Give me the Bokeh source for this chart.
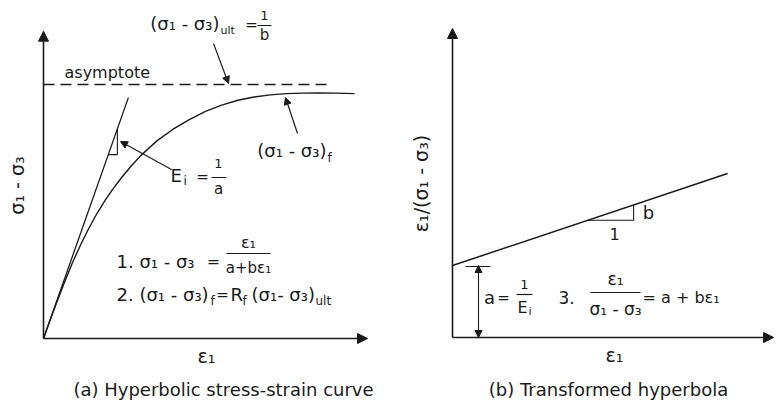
from bokeh.plotting import figure
from bokeh.layouts import row
from bokeh.models import Range1d, Arrow, NormalHead, Label
from bokeh.embed import file_html
from bokeh.resources import INLINE

FONT = "DejaVu Sans"
INK = "#1a1a1a"
H = 403

# ---- (a) hyperbolic stress-strain curve ----
strain = [0.0, 0.2, 0.45, 0.65, 0.9, 1.15, 1.4, 1.65, 1.9, 2.15, 2.4, 2.7, 3.0,
          3.5, 4.0, 4.5, 5.0, 5.5, 6.0, 6.5, 7.0, 7.5, 8.0, 8.5, 9.0, 9.6]
deviator_stress = [0.0, 7.1, 15.6, 22.2, 30.0, 37.0, 43.4, 49.2, 54.4, 59.0, 63.2, 67.8, 72.0,
                   77.8, 82.4, 86.2, 89.4, 91.9, 93.8, 95.1, 95.9, 96.4, 96.6, 96.7, 96.6, 96.4]
ult_stress = 100.0        # asymptote (σ1 - σ3)ult = 1/b
asymptote_to = 8.86
initial_modulus = 36.2    # Ei = 1/a, tangent at the origin
tangent_to = 2.62
slope_mark = [2.0, 2.28]  # little triangle on the tangent
strain_axis_a = 10.0
stress_axis_a = 121.0

# ---- (b) transformed hyperbola ----
line_strain = [0.0, 8.49]
line_ratio = [0.72, 1.64]  # ε1/(σ1 - σ3) = a + bε1
intercept_a = 0.72
slope_run = [4.17, 5.59]
strain_axis_b = 9.91
ratio_axis_b = 3.09


def make_panel(width, left, ox, oy, sx, sy):
    o = ox - left
    p = figure(width=width, height=H,
               x_range=Range1d(-o / sx, (width - o) / sx),
               y_range=Range1d(-(H - oy) / sy, oy / sy),
               x_axis_location=None, y_axis_location=None,
               output_backend="svg", toolbar_location=None, tools="",
               min_border=0)
    p.grid.visible = False
    p.outline_line_color = None
    p.background_fill_color = "white"
    p.border_fill_color = "white"

    def at(px, py):
        return (px - ox) / sx, (oy - py) / sy
    return p, at


def put(p, at, px, py, text, size, align="center", angle=0):
    x, y = at(px, py)
    p.add_layout(Label(x=x, y=y, text=text, text_font=FONT,
                       text_font_size=f"{size}px", text_color=INK,
                       text_align=align, text_baseline="middle",
                       angle=angle, angle_units="deg"))


def bar(p, at, x0, x1, py):
    a0 = at(x0, py)
    a1 = at(x1, py)
    p.segment(x0=a0[0], y0=a0[1], x1=a1[0], y1=a1[1], line_color=INK, line_width=1.2)


def head(size):
    return NormalHead(size=size, fill_color=INK, line_color=INK, line_width=1)


def arrow(p, x0, y0, x1, y1, size=7, width=1.2, both=False):
    p.add_layout(Arrow(x_start=x0, y_start=y0, x_end=x1, y_end=y1,
                       end=head(size), start=head(size) if both else None,
                       line_color=INK, line_width=width))


# ================= panel (a) =================
pa, at_a = make_panel(390, 0, 43, 338, 32.4, 2.54)

arrow(pa, 0, 0, 0, stress_axis_a, size=10, width=1.6)
arrow(pa, 0, 0, strain_axis_a, 0, size=10, width=1.6)

pa.line([0, asymptote_to], [ult_stress, ult_stress], line_color=INK,
        line_width=1.3, line_dash="11 6")
pa.line(strain, deviator_stress, line_color=INK, line_width=1.4)
pa.line([0, tangent_to], [0, initial_modulus * tangent_to], line_color=INK, line_width=1.3)
s0, s1 = slope_mark
pa.line([s0, s1, s1], [initial_modulus * s0, initial_modulus * s0, initial_modulus * s1],
        line_color=INK, line_width=1.1)

# pointers
p0, p1 = at_a(213, 43), at_a(228, 83)
arrow(pa, p0[0], p0[1], p1[0], p1[1], size=7)
p0, p1 = at_a(171, 169), at_a(120, 141)
arrow(pa, p0[0], p0[1], p1[0], p1[1], size=7)
p0, p1 = at_a(297, 133), at_a(285, 97)
arrow(pa, p0[0], p0[1], p1[0], p1[1], size=7)

# labels
put(pa, at_a, 219, 23, "(σ₁ - σ₃)", 18, "right")
put(pa, at_a, 220, 30, "ult", 11, "left")
put(pa, at_a, 251, 24, "=", 15)
put(pa, at_a, 264, 15, "1", 13)
bar(pa, at_a, 257, 271, 25)
put(pa, at_a, 264, 34, "b", 15)

put(pa, at_a, 64, 72, "asymptote", 16, "left")

put(pa, at_a, 170, 175, "E", 18, "left")
put(pa, at_a, 183, 180, "i", 12, "left")
put(pa, at_a, 202, 176, "=", 15)
put(pa, at_a, 218, 163, "1", 13)
bar(pa, at_a, 211, 226, 177)
put(pa, at_a, 218, 188, "a", 15)

put(pa, at_a, 326, 150, "(σ₁ - σ₃)", 18, "right")
put(pa, at_a, 327, 157, "f", 12, "left")

put(pa, at_a, 116, 261, "1. σ₁ - σ₃", 18, "left")
put(pa, at_a, 213, 261, "=", 16)
put(pa, at_a, 248, 242, "ε₁", 16)
bar(pa, at_a, 226, 270, 253)
put(pa, at_a, 248, 267, "a+bε₁", 15)

put(pa, at_a, 116, 294, "2. (σ₁ - σ₃)", 18, "left")
put(pa, at_a, 210, 300, "f", 12, "left")
put(pa, at_a, 222, 294, "=", 15)
put(pa, at_a, 230, 294, "R", 18, "left")
put(pa, at_a, 242, 300, "f", 12, "left")
put(pa, at_a, 251, 294, "(σ₁- σ₃)", 18, "left")
put(pa, at_a, 315, 300, "ult", 12, "left")

put(pa, at_a, 16, 185, "σ₁ - σ₃", 19, angle=90)
put(pa, at_a, 206, 355, "ε₁", 19)
put(pa, at_a, 223, 389, "(a) Hyperbolic stress-strain curve", 18)

# ================= panel (b) =================
pb, at_b = make_panel(387, 390, 452, 337, 32.4, 100.0)

arrow(pb, 0, 0, 0, ratio_axis_b, size=10, width=1.6)
arrow(pb, 0, 0, strain_axis_b, 0, size=10, width=1.6)

pb.line(line_strain, line_ratio, line_color=INK, line_width=1.5)
b_slope = (line_ratio[1] - line_ratio[0]) / (line_strain[1] - line_strain[0])
r0, r1 = slope_run
y0 = line_ratio[0] + b_slope * r0
y1 = line_ratio[0] + b_slope * r1
pb.line([r0, r1, r1], [y0, y0, y1], line_color=INK, line_width=1.1)

# intercept dimension
dx = at_b(478, 0)[0]
arrow(pb, dx, 0, dx, intercept_a, size=7, width=1.1, both=True)
t0, t1 = at_b(465, 0)[0], at_b(490, 0)[0]
pb.line([t0, t1], [intercept_a - 0.01, intercept_a - 0.01], line_color=INK, line_width=1.1)

put(pb, at_b, 648, 212, "b", 18)
put(pb, at_b, 614, 233, "1", 16)

put(pb, at_b, 489, 297, "a", 18)
put(pb, at_b, 503, 297, "=", 15)
put(pb, at_b, 524, 284, "1", 13)
bar(pb, at_b, 516, 532, 294)
put(pb, at_b, 522, 307, "E", 16)
put(pb, at_b, 528, 311, "i", 11, "left")

put(pb, at_b, 566, 297, "3.", 17)
put(pb, at_b, 615, 278, "ε₁", 17)
bar(pb, at_b, 590, 640, 292)
put(pb, at_b, 615, 308, "σ₁ - σ₃", 17)
put(pb, at_b, 642, 297, "= a + bε₁", 16, "left")

put(pb, at_b, 420, 183, "ε₁/(σ₁ - σ₃)", 19, angle=90)
put(pb, at_b, 614, 354, "ε₁", 19)
put(pb, at_b, 608, 389, "(b) Transformed hyperbola", 18)

layout = row(pa, pb)
open("out.html", "w").write(file_html(layout, INLINE))
